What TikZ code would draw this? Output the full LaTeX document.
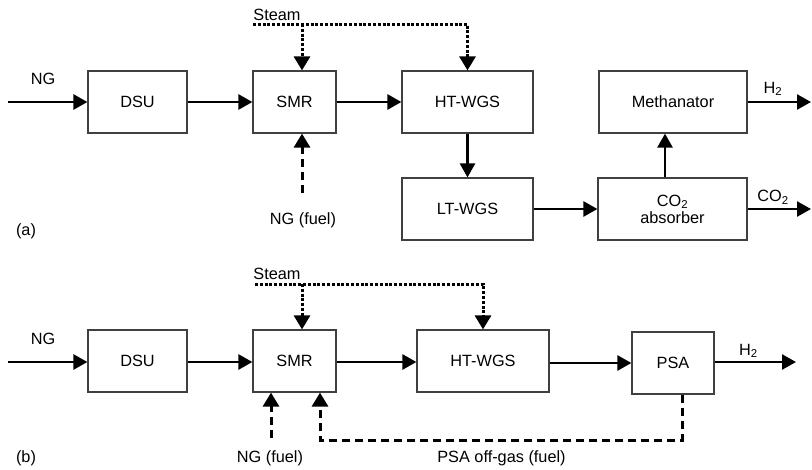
\documentclass[tikz,border=0pt]{standalone}
\usepackage{fontspec}
\setmainfont{Liberation Sans}
\usetikzlibrary{arrows.meta}
\begin{document}
\begin{tikzpicture}[x=1pt,y=-1pt,
  font=\fontsize{16.3}{19}\selectfont,
  box/.style={draw=black!75, line width=1.2pt, rectangle, minimum height=62pt, inner sep=0pt, align=center},
  flow/.style={line width=2.6pt, -{Triangle[length=14pt,width=15pt]}},
  steamln/.style={line width=3pt, dash pattern=on 3pt off 1.8pt},
  steamarr/.style={steamln, -{Triangle[length=14pt,width=16pt]}},
  fuel/.style={line width=3pt, dash pattern=on 8pt off 5pt, -{Triangle[length=14pt,width=16pt]}},
  lbl/.style={inner sep=0pt, anchor=base}]
\useasboundingbox (0,0) rectangle (812,469);

% ---------- panel (a) ----------
\node[box, minimum width=99pt]  (dsua) at (137.5,102) {DSU};
\node[box, minimum width=83pt]  (smra) at (294.5,102) {SMR};
\node[box, minimum width=131pt] (hta)  at (467.5,102) {HT-WGS};
\node[box, minimum width=148pt] (meth) at (673,102)   {Methanator};
\node[box, minimum width=131pt] (lta)  at (467.5,209) {LT-WGS};
\node[box, minimum width=149pt] (absa) at (672.5,209) {CO\textsubscript{2}\\[-2pt]absorber};

\coordinate (nga)    at (8,102);
\coordinate (h2a)    at (811,102);
\coordinate (co2a)   at (811,209);
\coordinate (steama) at (253,24);
\coordinate (sdropa) at (302,24);
\coordinate (fuela)  at (302,193);

\node[lbl] (ngla)    at (43,84)    {NG};
\node[lbl] (steamla) at (277,20)   {Steam};
\node[lbl] (fuella)  at (303,224)  {NG (fuel)};
\node[lbl] (h2la)    at (773,93)   {H\textsubscript{2}};
\node[lbl] (co2la)   at (773,201.5){CO\textsubscript{2}};
\node[lbl] (tagA)    at (26,235)   {(a)};

\draw[flow] (nga) -- (dsua.west);
\draw[flow] (dsua.east) -- (smra.west);
\draw[flow] (smra.east) -- (hta.west);
\draw[flow] (hta.south) -- (lta.north);
\draw[flow] (lta.east) -- (absa.west);
\draw[flow] ([xshift=-7.5pt]absa.north) -- ([xshift=-7.5pt]absa.north |- meth.south);
\draw[flow] (meth.east) -- (h2a);
\draw[flow] (absa.east) -- (co2a);
\draw[steamarr] (steama) -- (hta.north |- steama) -- (hta.north);
\draw[steamarr] (sdropa) -- (smra.north -| sdropa);
\draw[fuel] (fuela) -- (smra.south -| fuela);

% ---------- panel (b) ----------
\node[box, minimum width=99pt]  (dsub) at (137.5,361) {DSU};
\node[box, minimum width=83pt]  (smrb) at (294.5,361) {SMR};
\node[box, minimum width=132pt] (htb)  at (483,361)   {HT-WGS};
\node[box, minimum width=82pt]  (psab) at (673,363)   {PSA};

\coordinate (ngb)    at (8,362);
\coordinate (h2b)    at (796,362);
\coordinate (steamb) at (255,284);
\coordinate (sdropb) at (302,284);
\coordinate (fuelb)  at (271,438);
\coordinate (og1)    at (682,440);
\coordinate (og2)    at (320,440);

\node[lbl] (nglb)    at (43,344)   {NG};
\node[lbl] (steamlb) at (277,279)  {Steam};
\node[lbl] (fuellb)  at (270,462.5){NG (fuel)};
\node[lbl] (offlb)   at (501.5,462.5){PSA off-gas (fuel)};
\node[lbl] (h2lb)    at (748.5,355){H\textsubscript{2}};
\node[lbl] (tagB)    at (26,462)   {(b)};

\draw[flow] (ngb) -- (dsub.west |- ngb);
\draw[flow] (dsub.east |- ngb) -- (smrb.west |- ngb);
\draw[flow] (smrb.east |- ngb) -- (htb.west |- ngb);
\draw[flow] (htb.east |- psab.west) -- (psab.west);
\draw[flow] (psab.east |- ngb) -- (h2b);
\draw[steamarr] (steamb) -- (htb.north |- steamb) -- (htb.north);
\draw[steamarr] (sdropb) -- (smrb.north -| sdropb);
\draw[fuel] (fuelb) -- (smrb.south -| fuelb);
\draw[fuel] (psab.south -| og1) -- (og1) -- (og2) -- (smrb.south -| og2);
\end{tikzpicture}
\end{document}
